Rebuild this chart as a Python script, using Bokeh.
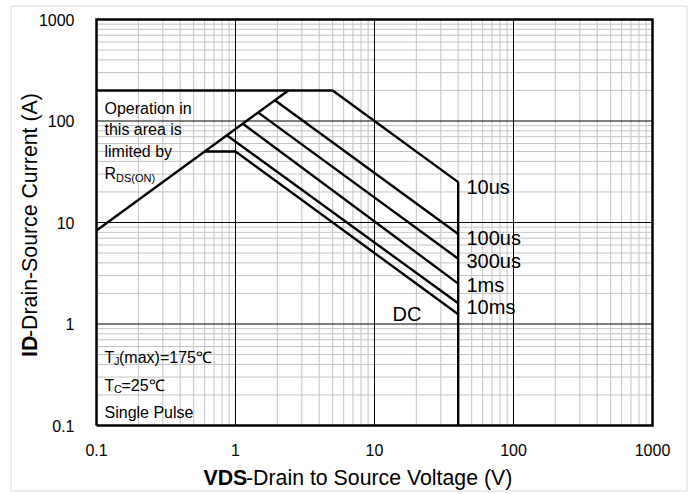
import numpy as np
from bokeh.plotting import figure
from bokeh.models import FixedTicker, CustomJSTickFormatter, Label, Range1d
from bokeh.embed import file_html
from bokeh.resources import INLINE

# ---- Safe operating area data (VDS in V, ID in A) ----
rds_v = [0.1, 2.4]
rds_i = [8.33, 200.0]
pkg_v = [0.1, 5.0]
pkg_i = [200.0, 200.0]
t10us_v = [5.0, 40.0]
t10us_i = [200.0, 25.0]
t100us_v = [1.92, 40.0]
t100us_i = [160.0, 7.7]
t300us_v = [1.46, 40.0]
t300us_i = [121.0, 4.4]
t1ms_v = [1.13, 40.0]
t1ms_i = [94.0, 2.5]
t10ms_v = [0.87, 40.0]
t10ms_i = [72.0, 1.6]
dc_v = [0.6, 1.0, 40.0]
dc_i = [50.0, 50.0, 1.25]
bv_v = [40.0, 40.0]
bv_i = [25.0, 0.1]

x_ticks = [0.1, 1, 10, 100, 1000]
y_ticks = [0.1, 1, 10, 100, 1000]
curve_labels = ["10us", "100us", "300us", "1ms", "10ms", "DC"]

FONT = "Liberation Sans"

# ---- layout geometry (pixels of the 694x494 picture) ----
W, H = 694, 494
FL, FR, FT, FB = 96, 652, 19, 425          # plot box
DX = (FR - FL) / 4.0                        # px per decade
DY = (FB - FT) / 4.0


def sx(px):
    return 10 ** (np.log10(x_ticks[0]) + (px - FL) / DX)


def sy(py):
    return 10 ** (np.log10(y_ticks[-1]) - (py - FT) / DY)


p = figure(width=W, height=H, x_axis_type="log", y_axis_type="log",
           x_range=Range1d(sx(0), sx(W)), y_range=Range1d(sy(H), sy(0)),
           output_backend="svg", toolbar_location=None,
           min_border_left=0, min_border_right=0,
           min_border_top=0, min_border_bottom=0)
p.title.visible = False
p.background_fill_color = "white"
p.border_fill_color = "white"
p.outline_line_color = None
p.xgrid.visible = False
p.ygrid.visible = False

# axes placed on the plot box edges
minor = [m * 10 ** e for e in range(-1, 3) for m in range(2, 10)]
p.xaxis.fixed_location = y_ticks[0]
p.yaxis.fixed_location = x_ticks[0]
for ax, ticks, so in ((p.xaxis[0], x_ticks, 12), (p.yaxis[0], y_ticks, 16)):
    ax.ticker = FixedTicker(ticks=ticks, minor_ticks=[])
    ax.formatter = CustomJSTickFormatter(code="return String(tick);")
    ax.axis_line_color = None
    ax.major_tick_line_color = None
    ax.minor_tick_line_color = None
    ax.major_label_text_font = FONT
    ax.major_label_text_font_size = "16px"
    ax.major_label_text_color = "black"
    ax.major_label_standoff = so

# outer chart-area border
bx = [sx(10.5), sx(686.5), sx(686.5), sx(10.5), sx(10.5)]
by = [sy(5.5), sy(5.5), sy(490.5), sy(490.5), sy(5.5)]
p.line(bx, by, line_color="#d9d9d9", line_width=1)

# grid: minor then major
x0, x1 = x_ticks[0], x_ticks[-1]
y0, y1 = y_ticks[0], y_ticks[-1]
p.segment(x0=minor, y0=[y0] * len(minor), x1=minor, y1=[y1] * len(minor),
          line_color="#c3c3c3", line_width=1)
p.segment(x0=[x0] * len(minor), y0=minor, x1=[x1] * len(minor), y1=minor,
          line_color="#c3c3c3", line_width=1)
mx = x_ticks[1:-1]
my = y_ticks[1:-1]
p.segment(x0=mx, y0=[y0] * len(mx), x1=mx, y1=[y1] * len(mx),
          line_color="black", line_width=1)
p.segment(x0=[x0] * len(my), y0=my, x1=[x1] * len(my), y1=my,
          line_color="black", line_width=1)

# SOA curves
LW = 2.4
for xs, ys in ((rds_v, rds_i), (pkg_v, pkg_i), (t10us_v, t10us_i),
               (t100us_v, t100us_i), (t300us_v, t300us_i), (t1ms_v, t1ms_i),
               (t10ms_v, t10ms_i), (dc_v, dc_i), (bv_v, bv_i)):
    p.line(xs, ys, line_color="black", line_width=LW)

# plot box frame
p.line([x0, x1, x1, x0, x0], [y0, y0, y1, y1, y0], line_color="black",
       line_width=2.5, line_join="miter")


def lab(text, px, py, size, bold=False, angle=0):
    p.add_layout(Label(x=sx(px), y=sy(py), text=text, text_font=FONT,
                       text_font_size=size, text_color="black",
                       text_font_style="bold" if bold else "normal",
                       text_align="left", text_baseline="middle",
                       angle=angle, angle_units="deg"))


# curve labels (left edge, cap centre)
label_pos = [(466, 186), (466, 237.5), (466, 260), (466, 284), (466, 306.5), (392, 313.3)]
for t, (px, py) in zip(curve_labels, label_pos):
    lab(t, px, py, "20px")

# RDS(on) note
lab("Operation in", 104, 107.5, "16px")
lab("this area is", 104, 129.3, "16px")
lab("limited by", 104, 151.1, "16px")
lab("R", 104, 173, "16px")
lab("DS(ON)", 115.5, 177, "11px")

# conditions
lab("T", 104, 356.5, "16px")
lab("J", 113.5, 360.5, "11px")
lab("(max)=175℃", 118.5, 356.5, "16px")
lab("T", 104, 384.5, "16px")
lab("C", 113.5, 388.5, "11px")
lab("=25℃", 121, 384.5, "16px")
lab("Single Pulse", 104, 412, "16px")

# axis titles
lab("VDS", 203, 477, "21.3px", bold=True)
lab("-Drain to Source Voltage (V)", 245.5, 477, "21.3px")
lab("ID", 29.5, 356.5, "21.3px", bold=True, angle=90)
lab("-Drain-Source Current (A)", 29.5, 336.5, "21.3px", angle=90)

open("out.html", "w").write(file_html(p, INLINE))
